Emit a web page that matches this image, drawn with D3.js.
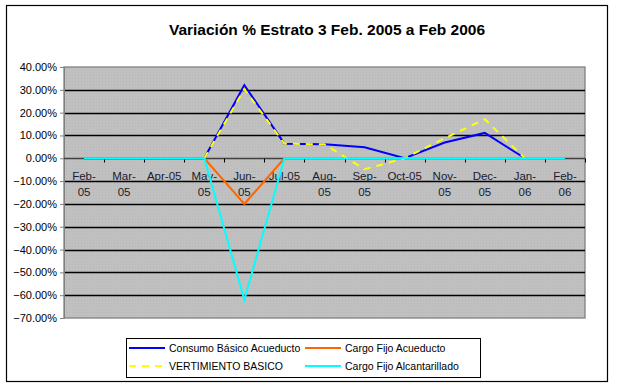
<!DOCTYPE html>
<html>
<head>
<meta charset="utf-8">
<script src="https://cdn.jsdelivr.net/npm/d3@7"></script>
<style>
  body { margin: 0; background: white; }
  svg { display: block; font-family: "Liberation Sans", Arial, sans-serif; }
</style>
</head>
<body>
<svg id="chart"></svg>
<script>
var months = ["Feb-05", "Mar-05", "Apr-05", "May-05", "Jun-05", "Jul-05", "Aug-05",
              "Sep-05", "Oct-05", "Nov-05", "Dec-05", "Jan-06", "Feb-06"];
// label lines as printed on the axis (Excel wraps some of them)
var monthLabels = [["Feb-", "05"], ["Mar-", "05"], ["Apr-05"], ["May-", "05"], ["Jun-", "05"],
                   ["Jul-05"], ["Aug-", "05"], ["Sep-", "05"], ["Oct-05"], ["Nov-", "05"],
                   ["Dec-", "05"], ["Jan-", "06"], ["Feb-", "06"]];

var seriesNames = ["Consumo Básico Acueducto", "Cargo Fijo Acueducto",
                   "VERTIMIENTO BASICO", "Cargo Fijo Alcantarillado"];

// values in %
var consumoBasico = [0, 0, 0, 0, 32, 6.4, 6.1, 4.8, 0, 6.9, 11.1, 0, null];
var cargoFijoAcu  = [0, 0, 0, 0, -20, 0, 0, 0, 0, 0, 0, 0, 0];
var vertimiento   = [null, null, null, 0, 30.3, 6.4, 6.1, -4.8, 0, 8.8, 17.1, 0, null];
var cargoFijoAlc  = [0, 0, 0, 0, -62, 0, 0, 0, 0, 0, 0, 0, 0];

var yTicks = [40, 30, 20, 10, 0, -10, -20, -30, -40, -50, -60, -70];

var W = 617, H = 386;
var plot = {left: 64, right: 585, top: 67, bottom: 318};

var svg = d3.select("#chart").attr("width", W).attr("height", H);

// outer frame
svg.append("rect")
   .attr("x", 6.5).attr("y", 5.5)
   .attr("width", 601).attr("height", 376)
   .attr("fill", "white").attr("stroke", "black").attr("stroke-width", 1.2);

svg.append("text")
   .attr("x", 327).attr("y", 35)
   .attr("text-anchor", "middle")
   .style("font-size", "15.5px").style("font-weight", "bold")
   .text("Variación % Estrato 3 Feb. 2005 a Feb 2006");

var x = d3.scaleBand().domain(months).range([plot.left, plot.right]);
var y = d3.scaleLinear().domain([-70, 40]).range([plot.bottom, plot.top]);

// plot area with a fine dot texture
var defs = svg.append("defs");
var pat = defs.append("pattern").attr("id", "dots")
   .attr("width", 3).attr("height", 3).attr("patternUnits", "userSpaceOnUse");
pat.append("rect").attr("width", 3).attr("height", 3).attr("fill", "#c0c0c0");
pat.append("rect").attr("width", 1).attr("height", 1).attr("fill", "#b8b8b8");

svg.append("rect")
   .attr("x", plot.left).attr("y", plot.top)
   .attr("width", plot.right - plot.left).attr("height", plot.bottom - plot.top)
   .attr("fill", "url(#dots)").attr("stroke", "#808080").attr("stroke-width", 1.3);

// gridlines
svg.append("g").selectAll("line")
   .data(yTicks.filter(d => d !== 40 && d !== -70 && d !== 0))
   .enter().append("line")
   .attr("x1", plot.left).attr("x2", plot.right)
   .attr("y1", d => Math.round(y(d)) + 0.5).attr("y2", d => Math.round(y(d)) + 0.5)
   .attr("stroke", "black").attr("stroke-width", 1.3);

// y axis labels
var yAxis = d3.axisLeft(y).tickValues(yTicks).tickSize(4)
   .tickFormat(d => d3.format(".2f")(d) + "%");
var gy = svg.append("g").attr("transform", "translate(" + plot.left + ",0)").call(yAxis);
gy.select(".domain").attr("stroke", "#808080");
gy.selectAll(".tick line").attr("stroke", "#808080");
gy.selectAll("text").style("font-size", "11px").attr("fill", "#000").attr("x", -7);

// x axis on the zero line, ticks between categories
var y0 = Math.round(y(0)) + 0.5;
svg.append("line")
   .attr("x1", plot.left).attr("x2", plot.right)
   .attr("y1", y0).attr("y2", y0)
   .attr("stroke", "#404040").attr("stroke-width", 1.3);
svg.append("g").selectAll("line")
   .data(months.slice(1).concat(["end"]))
   .enter().append("line")
   .attr("x1", (d, i) => Math.round(plot.left + (i + 1) * x.bandwidth()) + 0.5)
   .attr("x2", (d, i) => Math.round(plot.left + (i + 1) * x.bandwidth()) + 0.5)
   .attr("y1", y0).attr("y2", y0 + 4)
   .attr("stroke", "black");

var xl = svg.append("g").selectAll("text")
   .data(months).enter().append("text")
   .attr("x", d => x(d) + x.bandwidth() / 2)
   .attr("y", y0 + 21)
   .attr("text-anchor", "middle")
   .style("font-size", "11.5px").attr("fill", "#1a1a2e");
xl.each(function(d, i) {
  var t = d3.select(this);
  monthLabels[i].forEach(function(s, k) {
    t.append("tspan").attr("x", x(d) + x.bandwidth() / 2).attr("dy", k ? 16 : 0).text(s);
  });
});

// series
var cx = d => x(d) + x.bandwidth() / 2;
function drawLine(vals, color, dash) {
  var line = d3.line()
     .defined(d => d[1] !== null)
     .x(d => cx(d[0])).y(d => y(d[1]));
  svg.append("path")
     .datum(months.map((m, i) => [m, vals[i]]))
     .attr("d", line)
     .attr("fill", "none").attr("stroke", color).attr("stroke-width", 2)
     .attr("stroke-dasharray", dash || null);
}
drawLine(consumoBasico, "#0000ff");
drawLine(cargoFijoAcu, "#ff6600");
drawLine(vertimiento, "#ffff00", "7,6");
drawLine(cargoFijoAlc, "#00ffff");

// legend
var legend = svg.append("g");
legend.append("rect")
   .attr("x", 126.5).attr("y", 338.5).attr("width", 354).attr("height", 39)
   .attr("fill", "white").attr("stroke", "black");
var legItems = [
  {name: seriesNames[0], color: "#0000ff", x: 129, y: 348},
  {name: seriesNames[1], color: "#ff6600", x: 305, y: 348},
  {name: seriesNames[2], color: "#ffff00", x: 129, y: 366, dash: "7,6"},
  {name: seriesNames[3], color: "#00ffff", x: 305, y: 366}
];
legItems.forEach(function(d) {
  legend.append("line")
     .attr("x1", d.x).attr("x2", d.x + 36).attr("y1", d.y).attr("y2", d.y)
     .attr("stroke", d.color).attr("stroke-width", 2)
     .attr("stroke-dasharray", d.dash || null);
  legend.append("text")
     .attr("x", d.x + 40).attr("y", d.y + 3.5)
     .style("font-size", "10.5px").attr("fill", "#000")
     .text(d.name);
});
</script>
</body>
</html>
